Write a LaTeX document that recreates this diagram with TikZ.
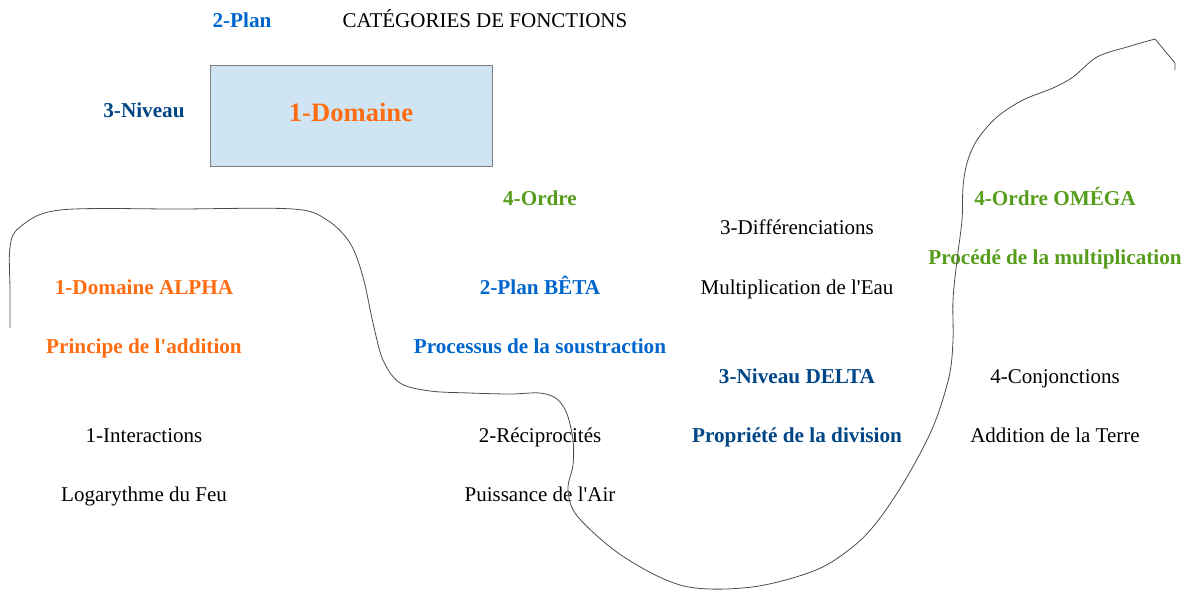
\documentclass[tikz,border=0pt]{standalone}
\usepackage{fontspec}
\setmainfont{Liberation Serif}
\definecolor{corange}{HTML}{FF6D12}
\definecolor{cblue}{HTML}{0066CC}
\definecolor{cdblue}{HTML}{004586}
\definecolor{cgreen}{HTML}{579D1C}
\definecolor{cfill}{HTML}{CFE5F3}
\definecolor{cborder}{HTML}{7F7F7F}
\tikzset{
  lbl/.style={font=\fontsize{21}{24}\selectfont, inner sep=0pt, anchor=center, text height=14pt, text depth=0pt},
  blbl/.style={lbl, font=\fontsize{21.2}{24}\selectfont\bfseries},
  curveline/.style={draw=black!70, line width=0.8pt},
}
\begin{document}
\begin{tikzpicture}[x=1pt,y=-1pt]
\useasboundingbox (0,0) rectangle (1188,590);
% rectangle
\node[draw=cborder, fill=cfill, line width=0.8pt, minimum width=282pt, minimum height=101pt, inner sep=0pt] (box) at (351,115.5) {};
\node[lbl, font=\fontsize{26.6}{30}\selectfont\bfseries, text=corange, text height=18pt] (dom) at (351,112) {1-Domaine};
\node[blbl, text=cblue] (plan) at (242,20) {2-Plan};
\node[lbl] (title) at (485,20) {CATÉGORIES DE FONCTIONS};
\node[blbl, text=cdblue] (niv) at (144,110) {3-Niveau};
\node[blbl, text=cgreen] (ordre) at (540,198) {4-Ordre};
\node[lbl] (diff) at (797,227) {3-Différenciations};
\node[blbl, text=cgreen] (omega) at (1055,198) {4-Ordre OMÉGA};
\node[blbl, text=corange] (alpha) at (144,287) {1-Domaine ALPHA};
\node[blbl, text=cblue] (beta) at (540,287) {2-Plan BÊTA};
\node[lbl] (eau) at (797,287) {Multiplication de l\textquotesingle Eau};
\node[blbl, text=cgreen] (mult) at (1055,257) {Procédé de la multiplication};
\node[blbl, text=corange] (add) at (144,346) {Principe de l\textquotesingle addition};
\node[blbl, text=cblue] (sous) at (540,346) {Processus de la soustraction};
\node[blbl, text=cdblue] (delta) at (797,376) {3-Niveau DELTA};
\node[lbl] (conj) at (1055,376) {4-Conjonctions};
\node[lbl] (inter) at (144,435) {1-Interactions};
\node[lbl] (recip) at (540,435) {2-Réciprocités};
\node[blbl, text=cdblue] (div) at (797,435) {Propriété de la division};
\node[lbl] (terre) at (1055,435) {Addition de la Terre};
\node[lbl] (feu) at (144,494) {Logarythme du Feu};
\node[lbl] (air) at (540,494) {Puissance de l\textquotesingle Air};
% freehand curve
\draw[curveline] plot[smooth, tension=0.55] coordinates {
 (10,328) (10,290) (10,247) (20,227) (60,210) (180,209) (293,209) (327,220)
 (350,243) (363,277) (373,323) (383,360) (400,383) (430,391) (470,393) (510,394)
 (540,393) (557,399) (567,414) (573,440) (573,465) (568,490) (578,517) (624,557)
 (684,586) (752,587) (816,570) (855,545) (880,518) (907,477) (933,427)
 (949,377) (953,340) (953,300) (957,260) (962,220) (963,187) (967,163) (977,140)
 (997,117) (1023,100) (1053,88) (1073,77) (1097,57) (1127,47) (1155,39)}
 -- (1175,63) -- (1175,70);
\end{tikzpicture}
\end{document}
